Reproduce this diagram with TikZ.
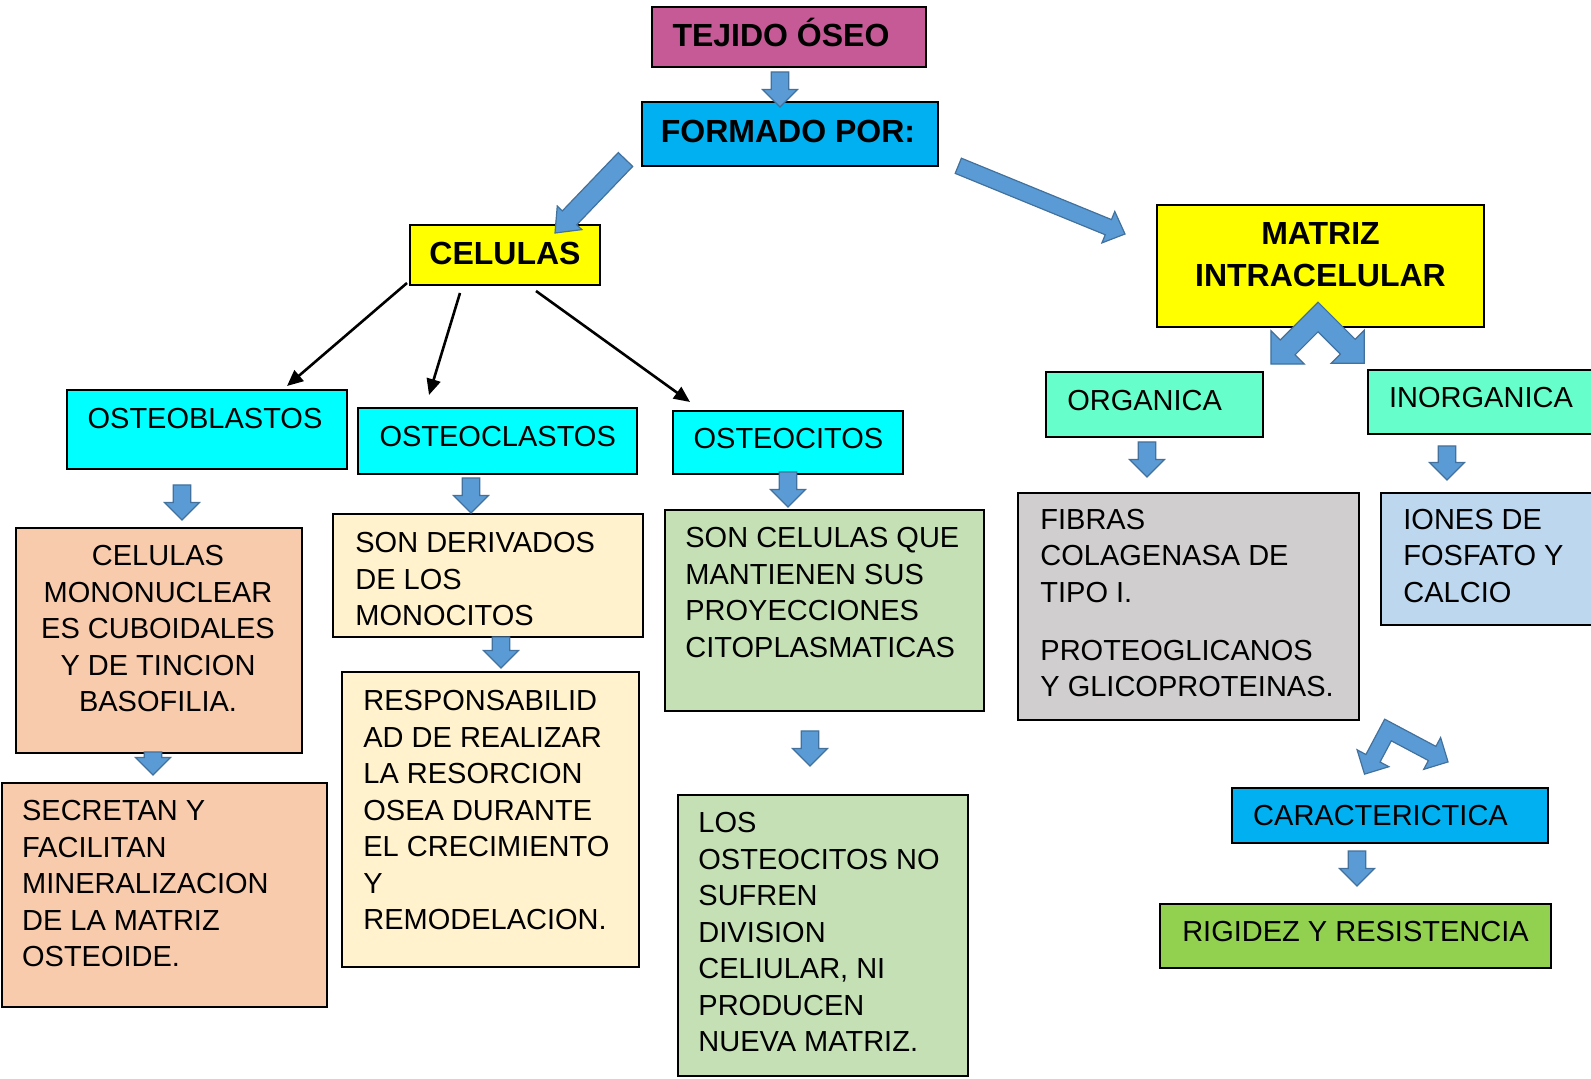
\documentclass[tikz,border=0pt]{standalone}
\usepackage{fontspec}
\setmainfont{Liberation Sans}
\usetikzlibrary{calc,arrows.meta}
\definecolor{cPink}{RGB}{197,90,151}
\definecolor{cBlue}{RGB}{0,176,240}
\definecolor{cYellow}{RGB}{255,255,0}
\definecolor{cCyan}{RGB}{0,255,255}
\definecolor{cMint}{RGB}{102,255,204}
\definecolor{cPeach}{RGB}{248,203,173}
\definecolor{cCream}{RGB}{255,242,204}
\definecolor{cLGreen}{RGB}{197,224,180}
\definecolor{cGray}{RGB}{208,206,206}
\definecolor{cLBlue}{RGB}{189,215,238}
\definecolor{cGreen}{RGB}{146,208,80}
\definecolor{arrowfill}{RGB}{91,155,213}
\definecolor{arrowline}{RGB}{65,113,156}
\tikzset{
  box/.style={draw=black, line width=0.8pt, inner sep=0pt, outer sep=0pt},
  lbl/.style={inner sep=0pt, font=\fontsize{14.5pt}{18.25pt}\selectfont},
  ttl/.style={inner sep=0pt, font=\fontsize{16pt}{20.5pt}\selectfont\bfseries},
  para/.style={lbl, align=left, anchor=north west},
  blockarrow/.style={fill=arrowfill, draw=arrowline, line width=0.6pt, line join=miter},
  conn/.style={draw=black, line width=1.3pt, -{Triangle[length=8pt,width=7pt]}},
}
\newcommand\bx[6]{\node[box, fill=#6, minimum width={(#4-#2)*0.5pt}, minimum height={(#5-#3)*0.5pt}] (#1) at ({(#2+#4)/2},{(#3+#5)/2}) {};}
\newcommand\barrow[5]{%
  \coordinate (bas) at (#1); \coordinate (bae) at (#2);
  \coordinate (bah) at ($(bae)!#5!(bas)$);
  \draw[blockarrow] ($(bas)!#3!90:(bae)$) -- ($(bah)!#3!-90:(bas)$) -- ($(bah)!#4!-90:(bas)$) -- (bae)
    -- ($(bah)!#4!90:(bas)$) -- ($(bah)!#3!90:(bas)$) -- ($(bas)!#3!-90:(bae)$) -- cycle;}
\newcommand\chevron[6]{%
  \begin{scope}[shift={#1}, rotate=#2]
  \draw[blockarrow] (0,{-1.4142*#3})
   -- ({0.7071*(#6+#3)},{0.7071*(#6-#3)}) -- ({0.7071*(#6+#4)},{0.7071*(#6-#4)})
   -- ({0.7071*(#6+#4)},{0.7071*(#6+#4)}) -- ({0.7071*(#6-#4)},{0.7071*(#6+#4)})
   -- ({0.7071*(#6-#3)},{0.7071*(#6+#3)}) -- (0,{1.4142*#3})
   -- ({-0.7071*(#5-#3)},{0.7071*(#5+#3)}) -- ({-0.7071*(#5-#4)},{0.7071*(#5+#4)})
   -- ({-0.7071*(#5+#4)},{0.7071*(#5+#4)}) -- ({-0.7071*(#5+#4)},{0.7071*(#5-#4)})
   -- ({-0.7071*(#5+#3)},{0.7071*(#5-#3)}) -- cycle;
  \end{scope}}
\begin{document}
\begin{tikzpicture}[x=0.5pt,y=-0.5pt]
\useasboundingbox (0,0) rectangle (1591,1079);
\fill[white] (0,0) rectangle (1591,1079);
% boxes
\bx{tejido}{652}{7}{926}{67}{cPink}
\bx{formado}{642}{102}{938}{166}{cBlue}
\bx{celulas}{410}{225}{600}{285}{cYellow}
\bx{matriz}{1157}{205}{1484}{327}{cYellow}
\bx{osteob}{67}{390}{347}{469}{cCyan}
\bx{osteocl}{358}{408}{637}{474}{cCyan}
\bx{osteoci}{673}{411}{903}{474}{cCyan}
\bx{organica}{1046}{372}{1263}{437}{cMint}
\bx{inorganica}{1368}{370}{1600}{434}{cMint}
\bx{mononuc}{16}{528}{302}{753}{cPeach}
\bx{secretan}{2}{783}{327}{1007}{cPeach}
\bx{derivados}{333}{514}{643}{637}{cCream}
\bx{respons}{342}{672}{639}{967}{cCream}
\bx{soncel}{665}{510}{984}{711}{cLGreen}
\bx{losost}{678}{795}{968}{1076}{cLGreen}
\bx{fibras}{1018}{493}{1359}{720}{cGray}
\bx{iones}{1381}{493}{1600}{625}{cLBlue}
\bx{caract}{1232}{788}{1548}{843}{cBlue}
\bx{rigidez}{1160}{904}{1551}{968}{cGreen}
% texts
\node[ttl, anchor=base] (ttejido) at (781,47) {TEJIDO ÓSEO};
\node[ttl, anchor=base] (tformado) at (788,143) {FORMADO POR:};
\node[ttl, anchor=base] (tcelulas) at (505,265) {CELULAS};
\node[ttl, anchor=base] (tmatriz1) at (1320.5,245) {MATRIZ};
\node[ttl, anchor=base] (tmatriz2) at (1320.5,287) {INTRACELULAR};
\node[lbl, anchor=base] (tosteob) at (205,429) {OSTEOBLASTOS};
\node[lbl, anchor=base] (tosteocl) at (497.7,446.7) {OSTEOCLASTOS};
\node[lbl, anchor=base] (tosteoci) at (788.4,448.7) {OSTEOCITOS};
\node[lbl, anchor=base] (torganica) at (1144.6,411) {ORGANICA};
\node[lbl, anchor=base] (tinorganica) at (1481,408) {INORGANICA};
\node[lbl, anchor=base] (tcaract) at (1380.5,825) {CARACTERICTICA};
\node[lbl, anchor=base] (trigidez) at (1355.5,941.5) {RIGIDEZ Y RESISTENCIA};
\node[lbl, align=center, anchor=north] (tmononuc) at (158,545)
  {CELULAS\\MONONUCLEAR\\ES CUBOIDALES\\Y DE TINCION\\BASOFILIA.};
\node[para] (tsecretan) at (21.7,800)
  {SECRETAN Y\\FACILITAN\\MINERALIZACION\\DE LA MATRIZ\\OSTEOIDE.};
\node[para] (tderivados) at (355,532) {SON DERIVADOS\\DE LOS\\MONOCITOS};
\node[para] (trespons) at (363,690)
  {RESPONSABILID\\AD DE REALIZAR\\LA RESORCION\\OSEA DURANTE\\EL CRECIMIENTO\\Y\\REMODELACION.};
\node[para] (tsoncel) at (685,527)
  {SON CELULAS QUE\\MANTIENEN SUS\\PROYECCIONES\\CITOPLASMATICAS};
\node[para] (tlosost) at (698,812)
  {LOS\\OSTEOCITOS NO\\SUFREN\\DIVISION\\CELIULAR, NI\\PRODUCEN\\NUEVA MATRIZ.};
\node[para] (tfibras) at (1040,508.5)
  {FIBRAS\\COLAGENASA DE\\TIPO I.\\[10.75pt]PROTEOGLICANOS\\Y GLICOPROTEINAS.};
\node[para] (tiones) at (1403,508.5) {IONES DE\\FOSFATO Y\\CALCIO};
% black connectors
\coordinate (c1s) at (407,283); \coordinate (c1e) at (287,386);
\coordinate (c2s) at (460,293); \coordinate (c2e) at (429,395);
\coordinate (c3s) at (536,291); \coordinate (c3e) at (690,402);
\draw[conn] (c1s) -- (c1e);
\draw[conn] (c2s) -- (c2e);
\draw[conn] (c3s) -- (c3e);
% block arrows
\barrow{780,72}{780,107}{4.4pt}{8.75pt}{8.75pt}
\barrow{182,485}{182,520}{4.4pt}{8.75pt}{8.75pt}
\barrow{471,478}{471,513}{4.4pt}{8.75pt}{8.75pt}
\barrow{788,472}{788,507}{4.4pt}{8.75pt}{8.75pt}
\barrow{153,752}{153,775}{4.4pt}{8.75pt}{8.75pt}
\barrow{501,637}{501,668}{4.4pt}{8.75pt}{8.75pt}
\barrow{810,731}{810,766}{4.4pt}{8.75pt}{8.75pt}
\barrow{1147,442}{1147,477}{4.4pt}{8.75pt}{8.75pt}
\barrow{1447,446}{1447,480}{4.4pt}{8.75pt}{8.75pt}
\barrow{1357,851}{1357,886}{4.4pt}{8.75pt}{8.75pt}
\barrow{625.5,159.5}{555,233}{5pt}{8.5pt}{10.5pt}
\barrow{958.3,165.8}{1125,234}{4.1pt}{8.5pt}{9pt}
\chevron{(1318,317)}{0}{10.5}{23.5}{43}{42}
\chevron{(1388,730)}{17}{8}{18}{32}{50}
\end{tikzpicture}
\end{document}
